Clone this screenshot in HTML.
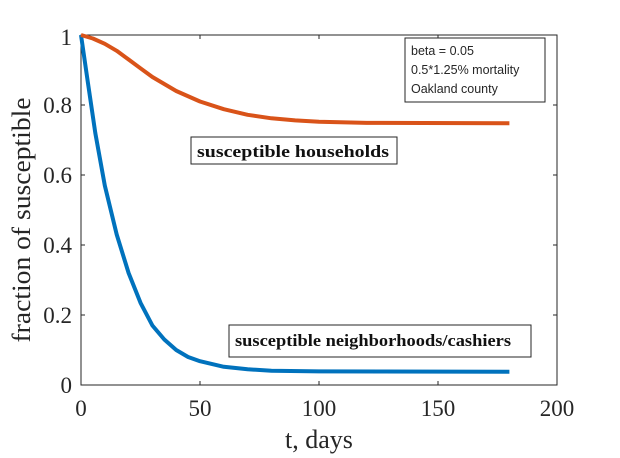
<!DOCTYPE html>
<html><head><meta charset="utf-8"><style>
body{margin:0;background:#fff;}
svg{display:block;}
</style></head><body>
<svg width="620" height="458" viewBox="0 0 620 458" xmlns="http://www.w3.org/2000/svg">
<rect width="620" height="458" fill="#fff"/>
<g stroke="#262626" stroke-width="1" fill="none">
<rect x="81" y="35" width="476" height="350"/>
<path d="M81,315h4M81,245h4M81,175h4M81,105h4M553,315h4M553,245h4M553,175h4M553,105h4"/>
<path d="M200,385v-4M319,385v-4M438,385v-4M200,35v4M319,35v4M438,35v4"/>
</g>
<g font-family="Liberation Serif, serif" font-size="23" fill="#262626">
<g text-anchor="end">
<text x="72" y="393">0</text><text x="72" y="323">0.2</text><text x="72" y="253">0.4</text>
<text x="72" y="183">0.6</text><text x="72" y="113">0.8</text><text x="72" y="45">1</text>
</g>
<g text-anchor="middle">
<text x="81" y="416">0</text><text x="200" y="416">50</text><text x="319" y="416">100</text>
<text x="438" y="416">150</text><text x="557" y="416">200</text>
<text x="319" y="448" font-size="26">t, days</text>
<text transform="translate(30,220) rotate(-90)" font-size="26" textLength="245" lengthAdjust="spacingAndGlyphs">fraction of susceptible</text>
</g>
</g>
<polyline fill="none" stroke="#0072BD" stroke-width="4" stroke-linejoin="round" points="81,35 88.1,84 95.3,133 104.8,185.5 116.7,234.5 128.6,273 140.5,302.8 152.4,325.5 164.3,339.5 176.2,350 188.1,357 200,361.2 223.8,366.8 247.6,369.3 271.4,370.7 319,371.4 509.4,371.7"/>
<polyline fill="none" stroke="#D95319" stroke-width="4" stroke-linejoin="round" points="81,35 92.9,38.5 104.8,43.8 116.7,50.8 128.6,59.5 140.5,68.3 152.4,77 164.3,84 176.2,91 200,101.5 223.8,109.2 247.6,114.8 271.4,118.3 295.2,120.4 319,121.8 366.6,122.9 509.4,123.2"/>
<rect x="405" y="38" width="140" height="64" fill="#fff" stroke="#262626"/>
<g font-family="Liberation Sans, sans-serif" font-size="12.5" fill="#262626">
<text x="411" y="55">beta = 0.05</text>
<text x="411" y="74">0.5*1.25% mortality</text>
<text x="411" y="93">Oakland county</text>
</g>
<rect x="191" y="137" width="206" height="27" fill="#fff" stroke="#262626"/>
<rect x="229" y="325" width="302" height="32" fill="#fff" stroke="#262626"/>
<g font-family="Liberation Serif, serif" font-size="17" font-weight="bold" fill="#111">
<text x="197" y="157" textLength="192" lengthAdjust="spacingAndGlyphs">susceptible households</text>
<text x="235" y="346" textLength="276" lengthAdjust="spacingAndGlyphs">susceptible neighborhoods/cashiers</text>
</g>
</svg>
</body></html>
